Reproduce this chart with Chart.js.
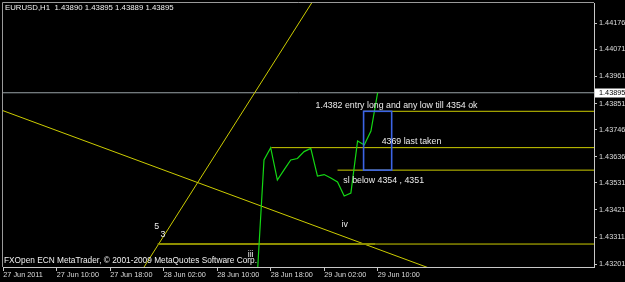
<!DOCTYPE html>
<html>
<head>
<meta charset="utf-8">
<script src="https://cdn.jsdelivr.net/npm/chart.js@4.4.1/dist/chart.umd.min.js"></script>
<style>
  html, body { margin: 0; padding: 0; background: #000; }
  canvas { display: block; }
</style>
</head>
<body>
<canvas id="chart" width="625" height="282"></canvas>
<script>
"use strict";

// hours counted from 27 Jun 2011 00:00, one close per H1 bar
const barHours = [39, 40, 41, 42, 43, 44, 45, 46, 47, 48, 49, 50, 51, 52, 53, 54, 55, 56, 57, 58];
const closes = [1.43120, 1.43158, 1.43623, 1.43673, 1.43542, 1.43583, 1.43623, 1.43629, 1.43657, 1.43670,
                1.43558, 1.43564, 1.43550, 1.43534, 1.43477, 1.43489, 1.43700, 1.43684, 1.43740, 1.43895];

const priceTicks = [1.44176, 1.44071, 1.43961, 1.43851, 1.43746, 1.43636, 1.43531, 1.43421, 1.43311, 1.43201];
const timeTicks = [2, 10, 18, 26, 34, 42, 50, 58];
const timeLabels = ['27 Jun 2011', '27 Jun 10:00', '27 Jun 18:00', '28 Jun 02:00',
                    '28 Jun 10:00', '28 Jun 18:00', '29 Jun 02:00', '29 Jun 10:00'];

const bid = 1.43895;
const quote = ['EURUSD,H1', '1.43890', '1.43895', '1.43889', '1.43895'];

// horizontal levels and the hour each one starts at
const levelPrices = [1.4382, 1.43673, 1.43582];
const levelStart = [55.9, 42.1, 52.0];
const wave3Level = 1.43283;
const wave3Start = 25.1;
const wave3Split = 57.7;

// trend lines as [hour, price]
const riseLine = [[22, 1.43145], [52, 1.44423]];
const fallLine = [[0, 1.43842], [70, 1.43143]];

// entry box
const boxHours = [55.9, 60.1];
const boxPrices = [1.4382, 1.43582];

const notes = [
  { text: '1.4382 entry long and any low till 4354 ok', hour: 48.72, price: 1.43845, align: 'left' },
  { text: '4369 last taken', hour: 58.6, price: 1.43696, align: 'left' },
  { text: 'sl below 4354 , 4351', hour: 52.87, price: 1.43539, align: 'left' },
  { text: 'iv', hour: 53.06, price: 1.43360, align: 'center' },
  { text: '5', hour: 24.93, price: 1.43353, align: 'center' },
  { text: '3', hour: 25.87, price: 1.43320, align: 'center' },
  { text: 'iii', hour: 39.0, price: 1.43239, align: 'center' }
];

const xMin = 1.955, xMax = 90.37;
const yMin = 1.431901, yMax = 1.442581;

const FONT = "'Liberation Sans', Arial, sans-serif";
const YELLOW = '#cccc00';
const AXIS = '#c8c8c8';

const seg = (pts) => pts.map(p => ({ x: p[0], y: p[1] }));
const level = (price, from, to) => [{ x: from, y: price }, { x: to, y: price }];

const datasets = [
  { data: barHours.map((h, i) => ({ x: h, y: closes[i] })), borderColor: '#14d814', borderWidth: 1.2 }
];
levelPrices.forEach((p, i) => {
  datasets.push({ data: level(p, levelStart[i], xMax + 1), borderColor: YELLOW, borderWidth: 1 });
});
datasets.push({ data: level(wave3Level, wave3Start, wave3Split), borderColor: '#8e8e00', borderWidth: 2 });
datasets.push({ data: level(wave3Level, wave3Split, xMax + 1), borderColor: YELLOW, borderWidth: 1 });
datasets.push({ data: seg(riseLine), borderColor: YELLOW, borderWidth: 1 });
datasets.push({ data: seg(fallLine), borderColor: YELLOW, borderWidth: 1 });
datasets.push({ data: level(bid, xMin - 2, xMax + 2), borderColor: '#98a2a6', borderWidth: 1 });

const mtPlugin = {
  id: 'mt',
  beforeDraw(chart) {
    const c = chart.ctx;
    c.save();
    c.fillStyle = '#000';
    c.fillRect(0, 0, chart.width, chart.height);
    c.restore();
  },
  beforeDatasetsDraw(chart) {
    const c = chart.ctx, a = chart.chartArea;
    c.save();
    c.strokeStyle = '#9a9a9a';
    c.lineWidth = 1;
    c.beginPath();
    c.moveTo(a.left - 0.5, a.bottom);
    c.lineTo(a.left - 0.5, a.top - 0.5);
    c.lineTo(a.right, a.top - 0.5);
    c.stroke();
    c.restore();
  },
  afterDatasetsDraw(chart) {
    const c = chart.ctx, x = chart.scales.x, y = chart.scales.y;
    c.save();
    c.strokeStyle = '#3c64e6';
    c.lineWidth = 1.6;
    const x0 = x.getPixelForValue(boxHours[0]), x1 = x.getPixelForValue(boxHours[1]);
    const y0 = y.getPixelForValue(boxPrices[0]), y1 = y.getPixelForValue(boxPrices[1]);
    c.strokeRect(x0, y0, x1 - x0, y1 - y0);

    c.fillStyle = '#ececec';
    c.font = '8.8px ' + FONT;
    c.textBaseline = 'middle';
    notes.forEach(n => {
      c.textAlign = n.align;
      c.fillText(n.text, x.getPixelForValue(n.hour), y.getPixelForValue(n.price));
    });
    c.restore();
  },
  afterDraw(chart) {
    const c = chart.ctx, y = chart.scales.y;
    c.save();
    c.textBaseline = 'middle';
    c.textAlign = 'left';
    c.fillStyle = '#f0f0f0';
    c.font = '7.8px ' + FONT;
    c.fillText(quote[0] + '  ' + quote.slice(1).join(' '), 5, 8);
    c.font = '8.3px ' + FONT;
    c.fillText('FXOpen ECN MetaTrader, \u00a9 2001-2009 MetaQuotes Software Corp.', 4, 261);

    const by = y.getPixelForValue(bid);
    c.fillStyle = '#ffffff';
    c.fillRect(595, Math.round(by) - 4.5, 30, 9);
    c.fillStyle = '#000';
    c.font = '7.3px ' + FONT;
    c.fillText(bid.toFixed(5), 599, by);
    c.restore();
  }
};

new Chart(document.getElementById('chart'), {
  type: 'line',
  data: { datasets },
  options: {
    responsive: false,
    animation: false,
    events: [],
    elements: { point: { radius: 0 }, line: { tension: 0 } },
    layout: { padding: { left: 3, top: 3, right: 0, bottom: 0 } },
    plugins: { legend: { display: false }, tooltip: { enabled: false } },
    scales: {
      x: {
        type: 'linear',
        min: xMin,
        max: xMax,
        afterBuildTicks: (s) => { s.ticks = timeTicks.map(v => ({ value: v })); },
        afterFit: (s) => { s.height = 15; s.paddingLeft = 0; s.paddingRight = 0; },
        ticks: {
          autoSkip: false, maxRotation: 0, minRotation: 0, align: 'start', padding: 0,
          color: '#dcdcdc', font: { family: FONT, size: 7.3 },
          callback: (v, i) => timeLabels[i]
        },
        grid: { drawOnChartArea: false, color: AXIS, tickLength: 4 },
        border: { display: true, color: AXIS }
      },
      y: {
        type: 'linear',
        position: 'right',
        min: yMin,
        max: yMax,
        afterBuildTicks: (s) => { s.ticks = priceTicks.map(v => ({ value: v })); },
        afterFit: (s) => { s.width = 31; s.paddingTop = 0; s.paddingBottom = 0; },
        ticks: {
          autoSkip: false, padding: 2,
          color: '#dcdcdc', font: { family: FONT, size: 7.3 },
          callback: (v) => Number(v).toFixed(5)
        },
        grid: { drawOnChartArea: false, color: AXIS, tickLength: 3 },
        border: { display: true, color: AXIS }
      }
    }
  },
  plugins: [mtPlugin]
});
</script>
</body>
</html>
